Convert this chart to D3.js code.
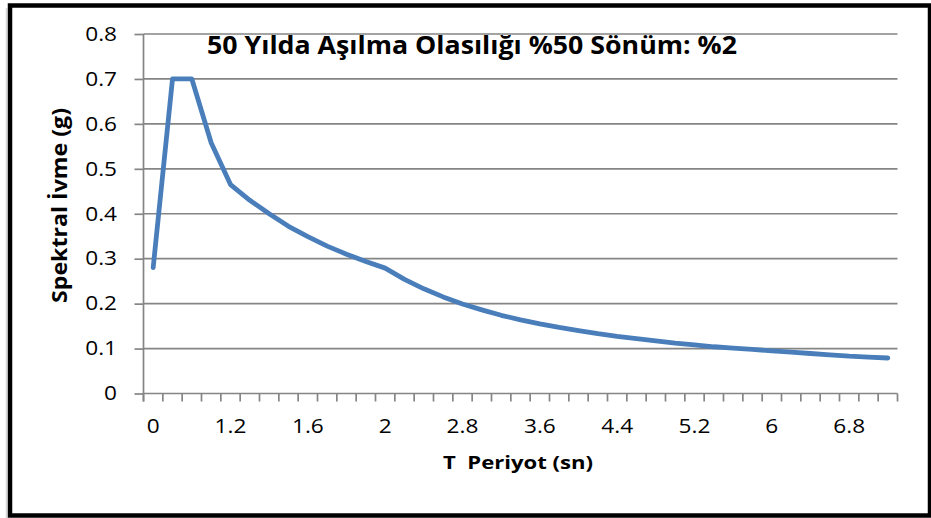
<!DOCTYPE html>
<html>
<head>
<meta charset="utf-8">
<script src="https://cdn.jsdelivr.net/npm/d3@7/dist/d3.min.js"></script>
<style>
  html, body { margin: 0; padding: 0; background: #fff; }
  svg { display: block; }
  text { font-family: "Open Sans", Lato, sans-serif; fill: #000; }
</style>
</head>
<body>
<svg id="chart" width="931" height="518"></svg>
<script>
// Period categories (s) — the axis is categorical, one band per period
const periods = [
  "0", "0.2", "0.8", "1", "1.2", "1.3", "1.4", "1.5", "1.6", "1.7", "1.8", "1.9", "2",
  "2.2", "2.4", "2.6", "2.8", "3", "3.2", "3.4", "3.6", "3.8", "4", "4.2", "4.4",
  "4.6", "4.8", "5", "5.2", "5.4", "5.6", "5.8", "6", "6.2", "6.4", "6.6", "6.8",
  "7", "7.2"
];
// Spectral acceleration (g)
const spectralAcc = [
  0.28, 0.70, 0.70, 0.558, 0.465, 0.43, 0.40, 0.372, 0.349, 0.328, 0.31, 0.294, 0.279,
  0.254, 0.233, 0.215, 0.199, 0.186, 0.174, 0.164, 0.155, 0.147, 0.140, 0.133, 0.127,
  0.122, 0.117, 0.112, 0.108, 0.104, 0.101, 0.098, 0.095, 0.092, 0.089, 0.086, 0.083,
  0.081, 0.079
];
// Labelled categories on the horizontal axis
const xTickLabels = ["0", "1.2", "1.6", "2", "2.8", "3.6", "4.4", "5.2", "6", "6.8"];
const yTicks = [0, 0.1, 0.2, 0.3, 0.4, 0.5, 0.6, 0.7, 0.8];

const titleText = "50 Yılda Aşılma Olasılığı %50 Sönüm: %2";
const xTitle = "T  Periyot (sn)";
const yTitle = "Spektral İvme (g)";

const svg = d3.select("#chart");
const plot = { left: 143.5, right: 897.5, top: 34, bottom: 393.5 };
const widen = 1.16; // horizontal glyph widening used for all labels

const x = d3.scaleBand().domain(periods).range([plot.left, plot.right]).paddingInner(0).paddingOuter(0);
const y = d3.scaleLinear().domain([0, 0.8]).range([plot.bottom, plot.top]);

const gridColor = "#858585";

// faint shadow strip and outer frame
svg.append("line")
  .attr("x1", 6.5).attr("x2", 6.5).attr("y1", 8).attr("y2", 518)
  .attr("stroke", "#d6d6d6").attr("stroke-width", 1.5);
svg.append("rect")
  .attr("x", 10).attr("y", 5.5).attr("width", 920).attr("height", 510)
  .attr("fill", "#fff").attr("stroke", "#000").attr("stroke-width", 4.5);

// horizontal gridlines
svg.append("g").selectAll("line").data(yTicks.filter(d => d > 0)).join("line")
  .attr("x1", plot.left).attr("x2", plot.right)
  .attr("y1", d => y(d)).attr("y2", d => y(d))
  .attr("stroke", gridColor).attr("stroke-width", 1.7);

function widenText(sel) {
  sel.each(function () {
    const w = this.getComputedTextLength();
    this.setAttribute("textLength", (w * widen).toFixed(2));
    this.setAttribute("lengthAdjust", "spacingAndGlyphs");
  });
}

// vertical axis with outward ticks
const yAxis = svg.append("g")
  .attr("transform", `translate(${plot.left},0)`)
  .call(d3.axisLeft(y).tickValues(yTicks).tickSize(9).tickPadding(17.5)
    .tickFormat(d => d === 0 ? "0" : d3.format(".1f")(d)));
yAxis.select(".domain").remove();
yAxis.selectAll(".tick line").attr("stroke", gridColor).attr("stroke-width", 1.7);
yAxis.selectAll(".tick text")
  .attr("font-size", 19.5).attr("fill", "#000").attr("font-family", "'Open Sans', sans-serif")
  .call(widenText);
svg.append("line")
  .attr("x1", plot.left).attr("x2", plot.left)
  .attr("y1", plot.top).attr("y2", plot.bottom + 8)
  .attr("stroke", gridColor).attr("stroke-width", 1.7);

// horizontal axis: tick marks on band boundaries, labels centred in bands
svg.append("line")
  .attr("x1", plot.left).attr("x2", plot.right)
  .attr("y1", plot.bottom).attr("y2", plot.bottom)
  .attr("stroke", gridColor).attr("stroke-width", 1.7);
const boundaries = periods.map(p => x(p)).concat([x(periods[periods.length - 1]) + x.bandwidth()]);
svg.append("g").selectAll("line").data(boundaries).join("line")
  .attr("x1", d => d).attr("x2", d => d)
  .attr("y1", plot.bottom).attr("y2", plot.bottom + 8)
  .attr("stroke", gridColor).attr("stroke-width", 1.7);

const xAxis = svg.append("g")
  .attr("transform", `translate(0,${plot.bottom})`)
  .call(d3.axisBottom(x).tickValues(xTickLabels).tickSize(0).tickPadding(26));
xAxis.select(".domain").remove();
xAxis.selectAll(".tick text")
  .attr("font-size", 19.5).attr("fill", "#000").attr("font-family", "'Open Sans', sans-serif")
  .call(widenText);

// spectrum curve
const line = d3.line()
  .x((d, i) => x(periods[i]) + x.bandwidth() / 2)
  .y(d => y(d));
svg.append("path")
  .datum(spectralAcc)
  .attr("d", line)
  .attr("fill", "none")
  .attr("stroke", "#4a7ebb")
  .attr("stroke-width", 4.8)
  .attr("stroke-linejoin", "round")
  .attr("stroke-linecap", "round");

// titles
svg.append("text")
  .attr("x", 472).attr("y", 54)
  .attr("text-anchor", "middle")
  .attr("font-size", 25).attr("font-weight", "bold")
  .attr("textLength", 530).attr("lengthAdjust", "spacingAndGlyphs")
  .text(titleText);

svg.append("text")
  .attr("x", 518).attr("y", 469)
  .attr("text-anchor", "middle")
  .attr("font-size", 18.5).attr("font-weight", "bold")
  .style("white-space", "pre")
  .attr("textLength", 150).attr("lengthAdjust", "spacingAndGlyphs")
  .text(xTitle);

svg.append("text")
  .attr("transform", `translate(66.5,205.5) scale(${widen},1) rotate(-90)`)
  .attr("text-anchor", "middle")
  .attr("font-size", 18.5).attr("font-weight", "bold")
  .attr("textLength", 195).attr("lengthAdjust", "spacingAndGlyphs")
  .text(yTitle);
</script>
</body>
</html>
